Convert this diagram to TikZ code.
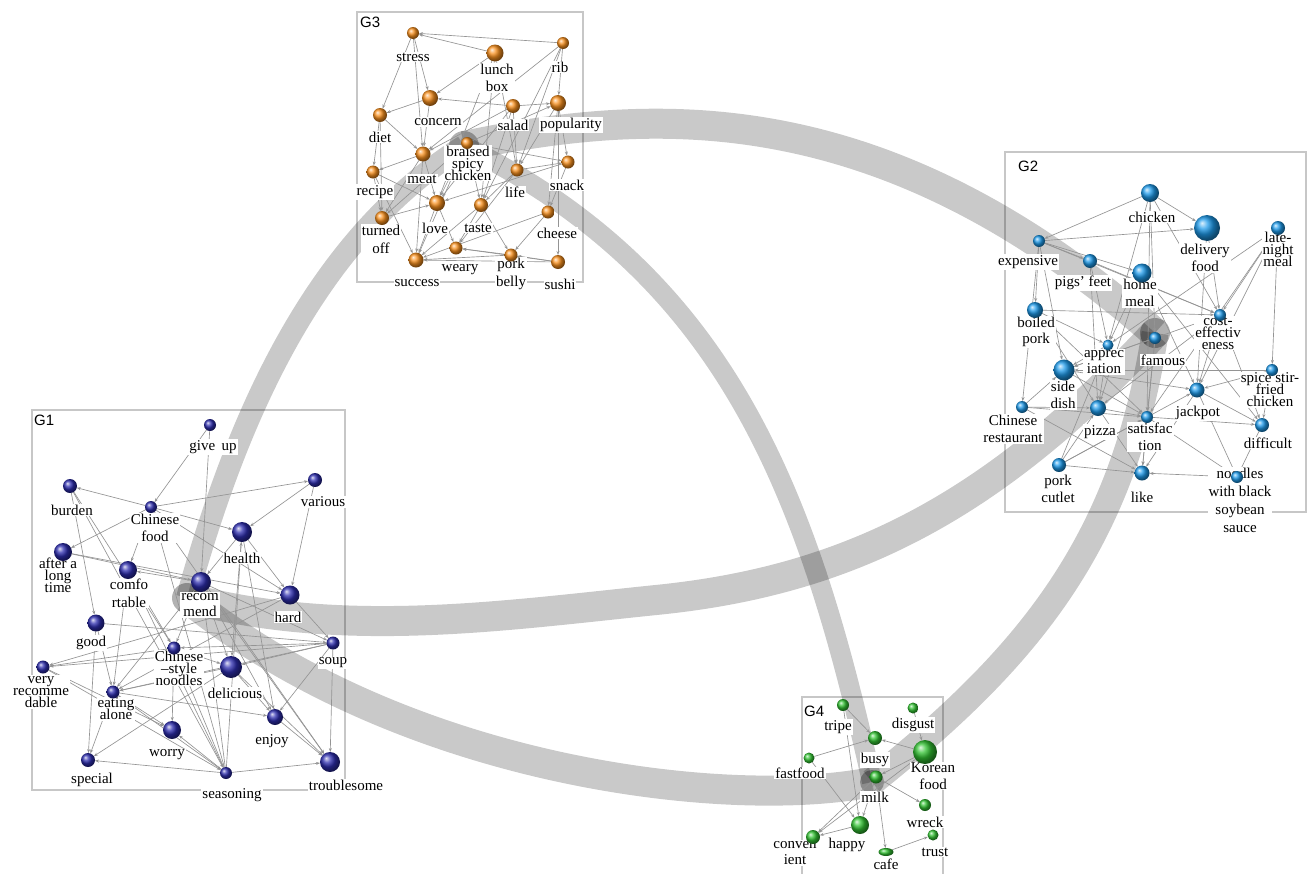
\documentclass[tikz,border=0pt]{standalone}
\usepackage{fontspec}
\setmainfont{Liberation Serif}
\newfontfamily\titlefont{Liberation Sans}
\usetikzlibrary{arrows.meta,shapes.geometric}
\pgfdeclarelayer{arcs}
\pgfdeclarelayer{edges}
\pgfdeclarelayer{labels}
\pgfsetlayers{arcs,edges,labels,main}

\definecolor{navyball}{RGB}{45,45,175}
\definecolor{orangeball}{RGB}{250,145,30}
\definecolor{skyball}{RGB}{30,155,235}
\definecolor{greenball}{RGB}{50,195,50}

\tikzset{
  ball/.style={circle, inner sep=0pt, outer sep=0pt},
  b1/.style={ball, ball color=navyball},
  b2/.style={ball, ball color=skyball},
  b3/.style={ball, ball color=orangeball},
  b4/.style={ball, ball color=greenball},
  lab/.style={fill=white, inner sep=1pt, align=center,
    font={\fontsize{15}{16.5}\selectfont}},
  labt/.style={lab, font={\fontsize{15}{12}\selectfont\lineskiplimit=-20pt}},
  labw/.style={lab, font={\fontsize{15}{18}\selectfont}},
  edge/.style={draw=black!42, line width=0.65pt, -{Stealth[length=4pt,width=3pt]}},
  flow/.style={draw=black, draw opacity=0.21, line width=30pt},
  hub/.style={circle, fill=black, fill opacity=0.3, minimum size=30pt, inner sep=0pt},
  grp/.style={draw=black!22, line width=1.2pt},
  gtitle/.style={font={\titlefont\fontsize{15}{15}\selectfont}, anchor=north west, inner sep=0pt},
}

% one keyword: ball name, ball style, x, y, diameter, label style, label x, label y, text
\newcommand{\term}[9]{%
  \node[#2, minimum size=#5pt] (#1) at (#3,#4) {};
  \begin{pgfonlayer}{labels}\node[#6] (t-#1) at (#7,#8) {#9};\end{pgfonlayer}}

\begin{document}
\begin{tikzpicture}[x=1pt,y=-1pt]
\useasboundingbox (0,0) rectangle (1308,873);

\begin{pgfonlayer}{arcs}
  \fill[white] (0,0) rectangle (1308,873);
  % group frames
  \draw[grp] (32,410) rectangle (345,790);
  \draw[grp] (357,12) rectangle (583,282);
  \draw[grp] (1005,152) rectangle (1306,512);
  \draw[grp] (802,697) rectangle (943,880);
  % group hubs
  \node[hub] (h1) at (187,598) {};
  \node[hub] (h3) at (464,146) {};
  \node[hub] (h2) at (1155,333) {};
  \node[hub, minimum size=24pt] (h4) at (872,782) {};
  % links between groups
  \draw[flow, line width=22pt] (h1.center) .. controls (234,429) and (309,243) .. (h3.center);
  \draw[flow] (h3.center) .. controls (656,106) and (884,95) .. (h2.center);
  \draw[flow] (h1.center) .. controls (343,639) and (500,616) .. (656,600)
                          .. controls (846,581) and (990,510) .. (h2.center);
  \draw[flow] (h1.center) .. controls (408,775) and (731,810) .. (h4.center);
  \draw[flow, line width=20pt] (h3.center) .. controls (722,275) and (806,482) .. (h4.center);
  \draw[flow, line width=27pt] (h2.center) .. controls (1123,544) and (1027,658) .. (h4.center);
\end{pgfonlayer}

\begin{pgfonlayer}{labels}
  \node[gtitle] (g1) at (34,415) {G1};
  \node[gtitle] (g3) at (360,17) {G3};
  \node[gtitle] (g2) at (1018,161) {G2};
  \node[gtitle] (g4) at (804,706) {G4};
\end{pgfonlayer}

% ---- G1 ----
\term{gu}{b1}{210}{425}{12}{lab}{213}{447}{give\, up}
\term{bu}{b1}{70}{486}{14}{lab}{72}{510}{burden}
\term{cf}{b1}{151}{507}{12}{lab}{155}{528}{Chinese\\food}
\term{va}{b1}{315}{480}{14}{lab}{323}{502}{various}
\term{he}{b1}{242}{532}{20}{lab}{242}{558}{health}
\term{al}{b1}{63}{552}{18}{labt}{58}{575}{after a\\long\\time}
\term{co}{b1}{128}{570}{18}{labw}{129}{593}{comfo\\rtable}
\term{rc}{b1}{201}{582}{20}{lab}{200}{605}{recom\\mend}
\term{ha}{b1}{290}{595}{19}{lab}{288}{617}{hard}
\term{go}{b1}{96}{623}{17}{lab}{91}{643}{good}
\term{so}{b1}{333}{643}{13}{lab}{333}{663}{soup}
\term{cn}{b1}{174}{648}{13}{labt}{179}{668}{Chinese\\–style\\noodles}
\term{de}{b1}{231}{667}{22}{lab}{235}{693}{delicious}
\term{vr}{b1}{43}{667}{13}{labt}{41}{692}{very\\recomme\\dable}
\term{ea}{b1}{113}{692}{13}{labt}{116}{709}{eating\\alone}
\term{en}{b1}{275}{717}{16}{lab}{272}{741}{enjoy}
\term{wo}{b1}{172}{730}{18}{lab}{167}{755}{worry}
\term{sp}{b1}{88}{760}{14}{lab}{92}{780}{special}
\term{se}{b1}{226}{773}{12}{lab}{232}{795}{seasoning}
\term{tr}{b1}{330}{762}{20}{lab}{346}{785}{troublesome}

% ---- G3 ----
\term{st}{b3}{413}{33}{12}{lab}{413}{57}{stress}
\term{ri}{b3}{563}{43}{12}{lab}{560}{67}{rib}
\term{lb}{b3}{495}{53}{17}{lab}{497}{78}{lunch\\box}
\term{cc}{b3}{430}{98}{16}{lab}{438}{122}{concern}
\term{di}{b3}{380}{115}{14}{lab}{380}{137}{diet}
\term{sa}{b3}{513}{106}{14}{lab}{513}{125}{salad}
\term{po}{b3}{558}{103}{16}{lab}{571}{125}{popularity}
\term{bs}{b3}{467}{143}{12}{labt}{468}{163}{braised\\spicy\\chicken}
\term{me}{b3}{423}{154}{15}{lab}{422}{179}{meat}
\term{sn}{b3}{568}{162}{13}{lab}{567}{185}{snack}
\term{re}{b3}{373}{172}{13}{lab}{375}{192}{recipe}
\term{li}{b3}{517}{170}{13}{lab}{515}{192}{life}
\term{lo}{b3}{437}{203}{16}{lab}{435}{228}{love}
\term{ta}{b3}{481}{205}{14}{lab}{478}{228}{taste}
\term{tf}{b3}{382}{218}{14}{labw}{381}{239}{turned\\off}
\term{ch}{b3}{548}{212}{13}{lab}{557}{233}{cheese}
\term{we}{b3}{456}{248}{13}{lab}{460}{270}{weary}
\term{su}{b3}{416}{260}{15}{lab}{417}{283}{success}
\term{pb}{b3}{511}{255}{13}{labw}{511}{274}{pork\\belly}
\term{sh}{b3}{558}{262}{14}{lab}{560}{284}{sushi}

% ---- G2 ----
\term{ck}{b2}{1150}{193}{18}{lab}{1152}{217}{chicken}
\term{df}{b2}{1207}{228}{26}{lab}{1205}{258}{delivery\\food}
\term{ln}{b2}{1278}{228}{14}{labt}{1278}{249}{late-\\night\\meal}
\term{ex}{b2}{1039}{241}{12}{lab}{1028}{262}{expensive}
\term{pf}{b2}{1090}{261}{14}{lab}{1083}{283}{pigs’ feet}
\term{hm}{b2}{1142}{273}{19}{lab}{1140}{293}{home\\meal}
\term{bp}{b2}{1035}{310}{16}{lab}{1036}{332}{boiled\\pork}
\term{ce}{b2}{1220}{315}{12}{labt}{1218}{333}{cost-\\effectiv\\eness}
\term{fa}{b2}{1155}{338}{12}{lab}{1163}{360}{famous}
\term{ap}{b2}{1108}{345}{11}{lab}{1104}{362}{apprec\\iation}
\term{sd}{b2}{1064}{370}{21}{lab}{1063}{395}{side\\dish}
\term{ss}{b2}{1272}{370}{12}{labt}{1270}{390}{spice stir-\\fried\\chicken}
\term{jp}{b2}{1197}{390}{15}{lab}{1198}{413}{jackpot}
\term{cr}{b2}{1022}{407}{12}{lab}{1013}{429}{Chinese\\restaurant}
\term{pz}{b2}{1098}{408}{16}{lab}{1100}{432}{pizza}
\term{sf}{b2}{1147}{417}{12}{lab}{1150}{437}{satisfac\\tion}
\term{dif}{b2}{1262}{425}{14}{lab}{1268}{443}{difficult}
\term{pc}{b2}{1059}{465}{14}{lab}{1058}{489}{pork\\cutlet}
\term{lk}{b2}{1142}{473}{15}{lab}{1142}{497}{like}
\term{nd}{b2}{1237}{477}{12}{labw}{1240}{500}{noodles\\with black\\soybean\\sauce}

% ---- G4 ----
\term{tp}{b4}{843}{705}{12}{lab}{838}{727}{tripe}
\term{dg}{b4}{913}{708}{11}{lab}{913}{725}{disgust}
\term{bz}{b4}{875}{738}{14}{lab}{875}{760}{busy}
\term{ff}{b4}{809}{758}{11}{lab}{800}{773}{fastfood}
\term{kf}{b4}{925}{752}{24}{lab}{933}{776}{Korean\\food}
\term{mk}{b4}{876}{777}{13}{lab}{875}{797}{milk}
\term{wr}{b4}{925}{805}{12}{lab}{925}{822}{wreck}
\term{hp}{b4}{860}{825}{18}{lab}{847}{845}{happy}
\term{cv}{b4}{813}{837}{14}{lab}{795}{853}{conven\\ient}
\term{tu}{b4}{933}{835}{11}{lab}{935}{852}{trust}
\node[b4, ellipse, minimum width=15pt, minimum height=8pt] (cfe) at (886,852) {};
\begin{pgfonlayer}{labels}\node[lab] (t-cfe) at (886,864) {cafe};\end{pgfonlayer}

\begin{pgfonlayer}{edges}
  % G1
  \foreach \a/\b in {cf/va, cf/bu, cf/he, gu/cf, cf/al, cf/co, cf/ha, cf/tr, gu/rc,
      bu/go, bu/cn, bu/se, al/ha, al/rc, rc/co, he/ha, he/rc, he/de, he/en, va/he,
      va/ha, rc/so, rc/tr, rc/de, rc/en, rc/ea, rc/cn, ha/so, ha/ea, ha/vr, go/so,
      go/ea, go/sp, so/vr, so/cn, so/de, so/tr, so/en, so/ea, cn/de, cn/se, cn/wo,
      cn/vr, de/sp, de/ea, de/en, de/tr, ea/sp, ea/wo, ea/se, ea/en, se/sp, se/tr,
      se/wo, se/cf, se/co, se/rc, se/he, vr/wo, vr/se, en/tr, co/cn, co/ea}
    \draw[edge] (\a) -- (\b);
  % G3
  \foreach \a/\b in {lb/st, ri/st, ri/po, st/di, st/cc, st/me, sa/cc, sa/po, lb/cc,
      di/re, di/tf, di/me, cc/di, me/tf, me/re, me/lo, me/su, bs/tf, bs/su, bs/lo,
      bs/ta, bs/sn, bs/po, sa/lo, sa/ta, sa/li, po/sn, po/li, po/ch, po/sh, li/ta,
      li/sn, li/we, ri/li, ri/ta, lb/ta, lb/li, re/tf, re/su, lo/su, lo/we, ta/we,
      ta/su, ta/pb, pb/su, pb/we, sh/we, sh/su, sh/pb, ch/pb, ch/su, sn/ch, sn/lo,
      tf/lo, ri/me, lb/lo, cc/me, re/lo, sa/me}
    \draw[edge] (\a) -- (\b);
  % G2
  \foreach \a/\b in {ck/ex, ex/df, ex/pf, ex/hm, ex/bp, ex/cr, ex/ce, ck/ap, ck/fa,
      ck/sf, ck/ce, df/ce, df/jp, ln/ce, ln/jp, ln/ap, ln/ss, ln/sf, pf/pz, pf/ce,
      pf/ap, hm/ap, hm/pz, hm/jp, bp/ce, bp/ap, bp/sf, bp/pz, ce/jp, ce/dif, ce/pz,
      ce/sd, fa/lk, fa/sf, fa/sd, ap/sd, ap/pz, ss/jp, ss/dif, ss/sd, jp/dif, jp/lk,
      jp/nd, cr/sd, cr/pz, cr/sf, cr/lk, pz/sf, sf/lk, sf/dif, sf/nd, pc/lk, pc/sf,
      pc/pz, pc/ap, pc/jp, nd/lk, dif/nd, pz/lk, sd/sf, sd/jp, ck/df, hm/dif, ex/sd}
    \draw[edge] (\a) -- (\b);
  % G4
  \foreach \a/\b in {tp/bz, ff/bz, kf/bz, kf/mk, kf/cv, mk/wr, mk/hp, mk/cv, mk/cfe,
      tp/hp, ff/hp, dg/kf, hp/cv, cfe/tu}
    \draw[edge] (\a) -- (\b);
\end{pgfonlayer}
\end{tikzpicture}
\end{document}
